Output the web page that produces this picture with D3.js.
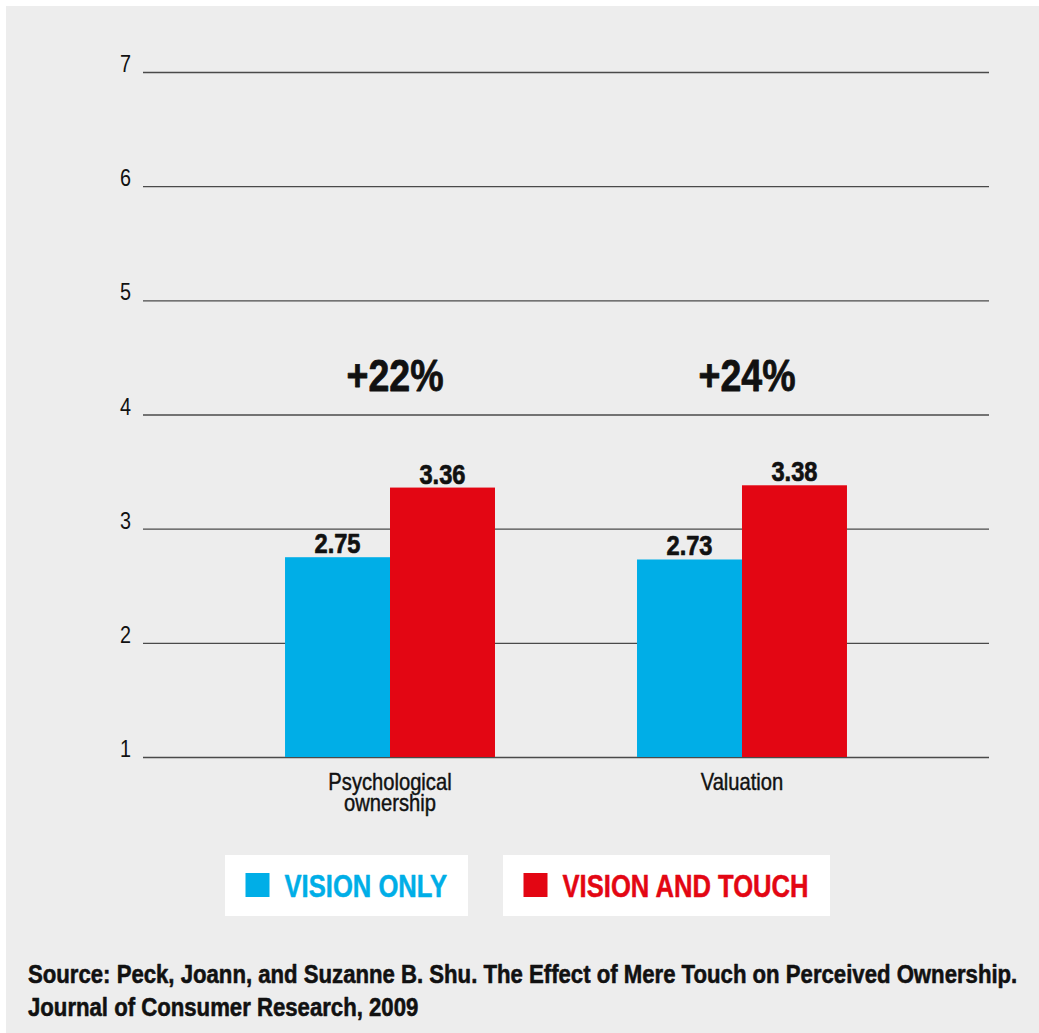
<!DOCTYPE html>
<html>
<head>
<meta charset="utf-8">
<script src="https://cdn.jsdelivr.net/npm/d3@7"></script>
<style>
  html, body { margin: 0; padding: 0; background: #ffffff; }
  svg { display: block; }
  text { font-family: "Liberation Sans", Arial, Helvetica, sans-serif; }
</style>
</head>
<body>
<svg id="chart" width="1039" height="1033"></svg>
<script>
// ---- data ----
const categories = ["Psychological ownership", "Valuation"];
const categoryLines = [["Psychological", "ownership"], ["Valuation"]];
const seriesNames = ["VISION ONLY", "VISION AND TOUCH"];
const visionOnly = [2.75, 2.73];
const visionAndTouch = [3.36, 3.38];
const increaseLabels = ["+22%", "+24%"];
const yTicks = [1, 2, 3, 4, 5, 6, 7];
const sourceLines = [
  "Source: Peck, Joann, and Suzanne B. Shu. The Effect of Mere Touch on Perceived Ownership.",
  "Journal of Consumer Research, 2009"
];

(function () {
const colors = { "VISION ONLY": "#00aee7", "VISION AND TOUCH": "#e30613" };
const bg = "#ededed";

const svg = d3.select("#chart");
const W = 1039, H = 1033;

// emulate a condensed typeface by compressing glyphs horizontally
function condense(sel, factor) {
  sel.each(function () {
    const w = this.getComputedTextLength();
    d3.select(this).attr("textLength", w * factor).attr("lengthAdjust", "spacingAndGlyphs");
  });
}
// slightly heavier strokes to mimic the black weight of the original face
function heavier(sel, w) {
  sel.attr("stroke", function () { return d3.select(this).attr("fill"); })
     .attr("stroke-width", w).attr("stroke-linejoin", "round");
}

svg.append("rect").attr("x", 6).attr("y", 6).attr("width", W - 6).attr("height", H - 6).attr("fill", bg);

const mLeft = 143, mRight = 989, mTop = 72, mBottom = 757;

const y = d3.scaleLinear().domain([1, 7]).range([mBottom, mTop]);
const x0 = d3.scaleBand().domain(categories).range([mLeft, mRight]).paddingInner(0.4035).paddingOuter(0.4035);
const x1 = d3.scaleBand().domain(seriesNames).range([0, x0.bandwidth()]);

// grid / y axis
const yAxis = d3.axisLeft(y).tickValues(yTicks).tickSize(-(mRight - mLeft)).tickPadding(12).tickFormat(d3.format("d"));
const gy = svg.append("g").attr("transform", `translate(${mLeft},0)`).call(yAxis);
gy.select(".domain").remove();
gy.selectAll(".tick line").attr("stroke", "#4a4a4a").attr("stroke-width", 1.3);
const tickTexts = gy.selectAll(".tick text").attr("font-size", 23).attr("fill", "#111").attr("dy", "-0.5").attr("x", -12)
  .style("font-family", '"Liberation Sans", Arial, sans-serif');
condense(tickTexts, 0.86);

// bars
const rows = categories.map((c, i) => ({
  cat: c,
  values: [
    { s: seriesNames[0], v: visionOnly[i] },
    { s: seriesNames[1], v: visionAndTouch[i] }
  ]
}));

const groups = svg.append("g").selectAll("g").data(rows).join("g")
  .attr("transform", d => `translate(${x0(d.cat)},0)`);

groups.selectAll("rect").data(d => d.values).join("rect")
  .attr("x", d => x1(d.s))
  .attr("width", x1.bandwidth())
  .attr("y", d => y(d.v))
  .attr("height", d => y(1) - y(d.v))
  .attr("fill", d => colors[d.s]);

const valTexts = groups.selectAll("text.val").data(d => d.values).join("text")
  .attr("class", "val")
  .attr("x", d => x1(d.s) + x1.bandwidth() / 2)
  .attr("y", d => y(d.v) - 4)
  .attr("text-anchor", "middle")
  .attr("font-size", 28)
  .attr("font-weight", "bold")
  .attr("fill", "#111")
  .text(d => d.v.toFixed(2));
condense(valTexts, 0.845);
heavier(valTexts, 0.7);

// increase labels
const pctTexts = svg.append("g").selectAll("text").data(categories).join("text")
  .attr("x", (d) => x0(d) + x0.bandwidth() / 2 + 5)
  .attr("y", y(4.21))
  .attr("text-anchor", "middle")
  .attr("font-size", 45)
  .attr("font-weight", "bold")
  .attr("fill", "#111")
  .text((d, i) => increaseLabels[i]);
condense(pctTexts, 0.834);
heavier(pctTexts, 0.8);

// category labels
const catG = svg.append("g").selectAll("text").data(categories).join("text")
  .attr("x", d => x0(d) + x0.bandwidth() / 2)
  .attr("y", 790)
  .attr("text-anchor", "middle")
  .attr("font-size", 24)
  .attr("fill", "#111");
catG.each(function(d, i) {
  const t = d3.select(this);
  categoryLines[i].forEach((ln, j) => {
    t.append("tspan").attr("x", x0(d) + x0.bandwidth() / 2).attr("dy", j === 0 ? 0 : 20.5).text(ln);
  });
});
catG.selectAll("tspan").each(function () {
  const w = this.getComputedTextLength();
  d3.select(this).attr("textLength", w * 0.84).attr("lengthAdjust", "spacingAndGlyphs");
});
heavier(catG, 0.45);

// legend
const legendBoxes = [
  { x: 225, w: 243 },
  { x: 503, w: 327 }
];
const lg = svg.append("g").selectAll("g").data(seriesNames).join("g")
  .attr("transform", (d, i) => `translate(${legendBoxes[i].x},855)`);
lg.append("rect").attr("width", (d, i) => legendBoxes[i].w).attr("height", 61).attr("fill", "#ffffff");
lg.append("rect").attr("x", 20.5).attr("y", 18).attr("width", 24).attr("height", 24).attr("fill", d => colors[d]);
const lgTexts = lg.append("text").attr("x", 59.5).attr("y", 42)
  .attr("font-size", 32).attr("font-weight", "bold")
  .attr("fill", d => colors[d]).text(d => d);
condense(lgTexts, 0.8);
heavier(lgTexts, 0.5);

// source (condensed with a horizontal scale transform)
const srcG = svg.append("g");
const srcTexts = srcG.selectAll("text").data(sourceLines).join("text")
  .attr("x", 0)
  .attr("y", (d, i) => i * 33)
  .attr("font-size", 25)
  .attr("font-weight", "bold")
  .attr("fill", "#111")
  .text(d => d);
const srcFactor = 990 / srcTexts.node().getComputedTextLength();
srcG.attr("transform", `translate(28,983) scale(${srcFactor},1)`);
heavier(srcTexts, 0.55);
})();
</script>
</body>
</html>
